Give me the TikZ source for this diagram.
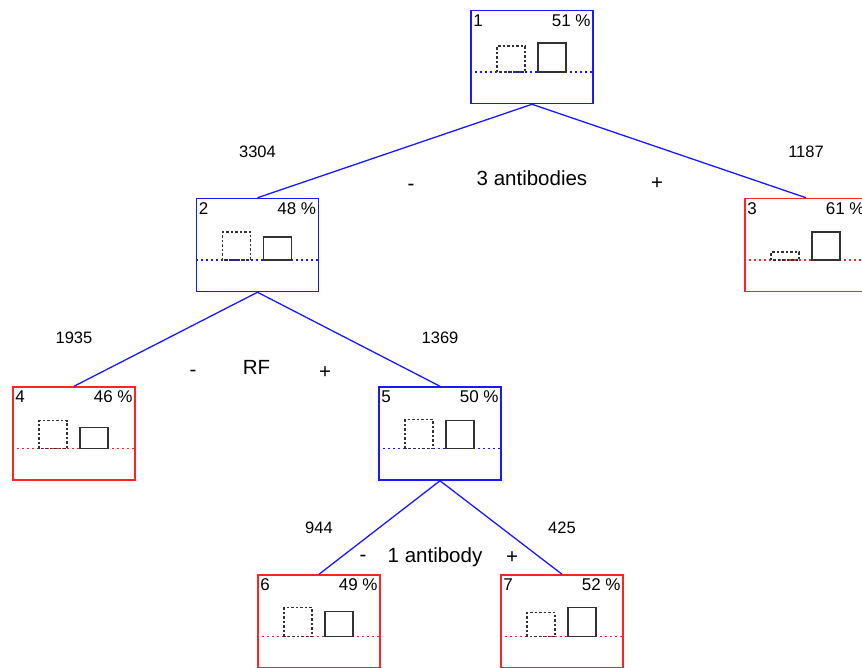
\documentclass[tikz,border=0pt]{standalone}
\usepackage{fontspec}
\setmainfont{Liberation Sans}
\usetikzlibrary{calc}
\definecolor{treeblue}{RGB}{25,25,255}
\definecolor{treered}{RGB}{255,35,35}
\definecolor{bargray}{RGB}{50,50,50}
\tikzset{
	split/.style={draw, rectangle, minimum width=122pt, minimum height=93pt, inner sep=0pt, line width=1.5pt},
	hisplit/.style={split, treeblue},
	losplit/.style={split, treered},
	edge/.style={treeblue, line width=1.3pt},
	cnt/.style={font=\fontsize{16.5}{18}\selectfont, anchor=base, inner sep=0pt},
	var/.style={font=\fontsize{20.5}{22}\selectfont, anchor=base, inner sep=0pt},
	tag/.style={font=\fontsize{17}{19}\selectfont, text=black, inner xsep=3pt, inner ysep=4.5pt},
}
\begin{document}
\begin{tikzpicture}[x=1pt, y=-1pt]
	\useasboundingbox (0,0) rectangle (862,667);
	\clip (0,0) rectangle (862,667);

	% splits
	\node[hisplit, label={[tag,anchor=north west]north west:1}, label={[tag,anchor=north east]north east:51 \%}] (n1) at (532,57) {};
	\node[hisplit, label={[tag,anchor=north west]north west:2}, label={[tag,anchor=north east]north east:48 \%}] (n2) at (257.5,245) {};
	\node[losplit, label={[tag,anchor=north west]north west:3}, label={[tag,anchor=north east]north east:61 \%}] (n3) at (806,245) {};
	\node[losplit, label={[tag,anchor=north west]north west:4}, label={[tag,anchor=north east]north east:46 \%}] (n4) at (74,433.5) {};
	\node[hisplit, label={[tag,anchor=north west]north west:5}, label={[tag,anchor=north east]north east:50 \%}] (n5) at (440,433.5) {};
	\node[losplit, label={[tag,anchor=north west]north west:6}, label={[tag,anchor=north east]north east:49 \%}] (n6) at (319,621.5) {};
	\node[losplit, label={[tag,anchor=north west]north west:7}, label={[tag,anchor=north east]north east:52 \%}] (n7) at (562,621.5) {};

	% bars inside each split
	\foreach \n/\c/\d/\s in {n1/treeblue/26/29, n2/treeblue/28/23, n3/treered/8/28, n4/treered/28/21,
	                         n5/treeblue/29/28, n6/treered/29/25, n7/treered/24/29} {
		\draw[\c, line width=1.1pt, dash pattern=on 2pt off 3pt] ($(\n.west)+(0,15)$) -- ($(\n.east)+(0,15)$);
		\draw[bargray, line width=1.1pt, dash pattern=on 2.5pt off 2pt] ($(\n.center)+(-35,15)$) rectangle ++(28,-\d);
		\draw[bargray, line width=1.3pt] ($(\n.center)+(6,15)$) rectangle ++(28,-\s);
	}

	% branches
	\draw[edge] (n1.south) -- (n2.north);
	\draw[edge] (n1.south) -- (n3.north);
	\draw[edge] (n2.south) -- (n4.north);
	\draw[edge] (n2.south) -- (n5.north);
	\draw[edge] (n5.south) -- (n6.north);
	\draw[edge] (n5.south) -- (n7.north);

	% counts
	\node[cnt] (c2) at ($(n2.north)+(0,-40.5)$) {3304};
	\node[cnt] (c3) at ($(n3.north)+(0,-40.5)$) {1187};
	\node[cnt] (c4) at ($(n4.north)+(0,-42.5)$) {1935};
	\node[cnt] (c5) at ($(n5.north)+(0,-42.5)$) {1369};
	\node[cnt] (c6) at ($(n6.north)+(0,-41)$) {944};
	\node[cnt] (c7) at ($(n7.north)+(0,-41)$) {425};

	% split variables
	\node[var] (v1) at (532,185) {3 antibodies};
	\node[var] (v1m) at (411,190) {-};
	\node[var] (v1p) at (657,189) {+};
	\node[var] (v2) at (256.5,374) {RF};
	\node[var] (v2m) at (193,376) {-};
	\node[var] (v2p) at (325,378) {+};
	\node[var] (v5) at (435,562) {1 antibody};
	\node[var] (v5m) at (363,561) {-};
	\node[var] (v5p) at (512,563) {+};
\end{tikzpicture}
\end{document}
